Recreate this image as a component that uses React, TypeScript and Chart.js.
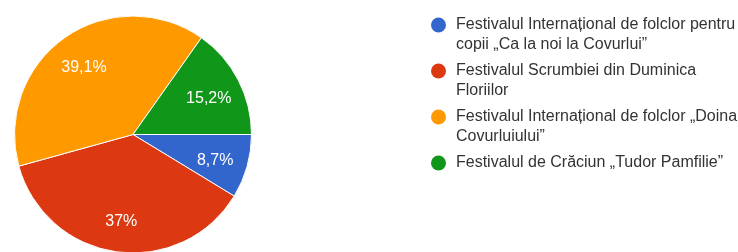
import React, { useEffect, useRef } from "react";
import { Chart, registerables } from "chart.js";

Chart.register(...registerables);

const categories: string[] = [
  "Festivalul Internațional de folclor pentru copii „Ca la noi la Covurlui”",
  "Festivalul Scrumbiei din Duminica Floriilor",
  "Festivalul Internațional de folclor „Doina Covurluiului”",
  "Festivalul de Crăciun „Tudor Pamfilie”",
];
const values: number[] = [8.7, 37, 39.1, 15.2];
const valueLabels: string[] = ["8,7%", "37%", "39,1%", "15,2%"];
const colors: string[] = ["#3366cc", "#dc3912", "#ff9900", "#109618"];

const FONT = "'Liberation Sans', Arial, sans-serif";

const sliceLabels = {
  id: "sliceLabels",
  afterDatasetsDraw(chart: any) {
    const ctx = chart.ctx;
    const meta = chart.getDatasetMeta(0);
    ctx.save();
    ctx.font = `16px ${FONT}`;
    ctx.fillStyle = "#ffffff";
    ctx.textAlign = "center";
    ctx.textBaseline = "middle";
    meta.data.forEach((arc: any, i: number) => {
      const p = arc.getProps(["x", "y", "startAngle", "endAngle", "outerRadius"], true);
      const mid = (p.startAngle + p.endAngle) / 2;
      const r = p.outerRadius * 0.72;
      ctx.fillText(valueLabels[i], p.x + Math.cos(mid) * r, p.y + Math.sin(mid) * r + 3);
    });
    ctx.restore();
  },
};

const customLegend = {
  id: "customLegend",
  afterDraw(chart: any) {
    const ctx = chart.ctx;
    const circleX = 438.5;
    const textX = 456;
    const maxW = 288;
    const lineH = 20;
    const gap = 6;
    let y = 25;
    ctx.save();
    ctx.font = `16px ${FONT}`;
    ctx.textAlign = "left";
    ctx.textBaseline = "middle";
    categories.forEach((label, i) => {
      const words = label.split(" ");
      const lines: string[] = [];
      let cur = "";
      words.forEach((w) => {
        const test = cur ? cur + " " + w : w;
        if (ctx.measureText(test).width > maxW && cur) {
          lines.push(cur);
          cur = w;
        } else {
          cur = test;
        }
      });
      if (cur) lines.push(cur);
      ctx.fillStyle = colors[i];
      ctx.beginPath();
      ctx.arc(circleX, y, 7.5, 0, Math.PI * 2);
      ctx.fill();
      ctx.fillStyle = "#333333";
      lines.forEach((ln, j) => {
        ctx.fillText(ln, textX, y + j * lineH);
      });
      y += lines.length * lineH + gap;
    });
    ctx.restore();
  },
};

export default function App() {
  const ref = useRef<HTMLCanvasElement>(null);
  useEffect(() => {
    if (!ref.current) return;
    const chart = new Chart(ref.current, {
      type: "pie",
      data: {
        labels: categories,
        datasets: [
          {
            data: values,
            backgroundColor: colors,
            borderColor: "#ffffff",
            borderWidth: 1,
          },
        ],
      },
      options: {
        responsive: false,
        animation: false,
        rotation: 90,
        layout: { padding: { left: 14, top: 15, right: 486, bottom: 15 } },
        plugins: {
          legend: { display: false },
          tooltip: { enabled: false },
        },
      },
      plugins: [sliceLabels, customLegend],
    });
    return () => chart.destroy();
  }, []);
  return (
    <div
      style={{
        position: "fixed",
        left: 0,
        top: 0,
        width: 738,
        height: 252,
        overflow: "hidden",
        background: "#ffffff",
      }}
    >
      <canvas ref={ref} width={738} height={269} style={{ display: "block" }} />
    </div>
  );
}
